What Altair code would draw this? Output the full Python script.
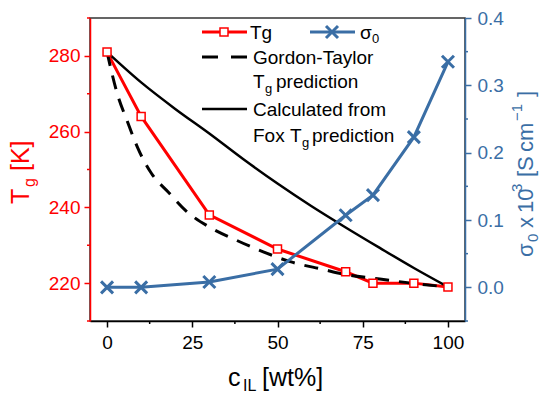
import altair as alt
import pandas as pd

# ---------------- data ----------------
c_exp = [0, 10, 30, 50, 70, 78, 90, 100]
tg_exp = [281, 264, 238, 229, 223, 220, 220, 219]
sigma = [0.0, 0.0, 0.008, 0.027, 0.107, 0.137, 0.223, 0.335]

c_gt = [0, 3, 6, 9, 13, 18, 23, 30, 38, 46, 54, 63, 71, 80, 89, 100]
tg_gt = [281, 270, 262.6, 255.7, 249, 244, 239.2, 234.8, 231.3, 228.2, 225.6, 223.7, 222.1, 221.1, 220.0, 219]

c_fox = [0, 10, 20, 30, 40, 50, 60, 70, 80, 90, 100]
tg_fox = [281, 273, 266, 259.5, 252.7, 246.3, 240.3, 234.7, 229.3, 224, 219]

x_ticks = [0, 25, 50, 75, 100]
x_minor = [12.5, 37.5, 62.5, 87.5]
tg_ticks = [220, 240, 260, 280]
tg_minor = [210, 230, 250, 270, 290]
s_ticks = [0.0, 0.1, 0.2, 0.3, 0.4]
s_minor = [-0.05, 0.05, 0.15, 0.25, 0.35]

# ---------------- style ----------------
FONT = "Liberation Sans"
RED = "#ff0000"
BLUE = "#3a6ea5"
W, H = 375, 303

df_exp = pd.DataFrame({"c": c_exp, "T": tg_exp, "s": sigma})
df_gt = pd.DataFrame({"c": c_gt, "T": tg_gt})
df_fox = pd.DataFrame({"c": c_fox, "T": tg_fox})
df_tmin = pd.DataFrame({"T": tg_minor})
df_smin = pd.DataFrame({"s": s_minor})
df_xmin = pd.DataFrame({"c": x_minor})
one = alt.Data(values=[{}])

xs = alt.Scale(domain=[-5, 105], nice=False, zero=False)
ys = alt.Scale(domain=[210, 290], nice=False, zero=False)
ss = alt.Scale(domain=[-0.05, 0.4], nice=False, zero=False)

xaxis = alt.Axis(values=x_ticks, title="", grid=False, domainColor="black", domainWidth=1.5,
                 tickColor="black", tickWidth=1.5, tickSize=6, labelFont=FONT, labelFontSize=19,
                 labelColor="black", labelPadding=6)
yaxis = alt.Axis(values=tg_ticks, title="", grid=False, orient="left", domainColor=RED, domainWidth=1.5,
                 tickColor=RED, tickWidth=1.5, tickSize=6, labelFont=FONT, labelFontSize=19,
                 labelColor=RED, labelPadding=4)
saxis = alt.Axis(values=s_ticks, title="", grid=False, orient="right", format=".1f", domainColor=BLUE,
                 domainWidth=1.5, tickColor=BLUE, tickWidth=1.5, tickSize=6, labelFont=FONT,
                 labelFontSize=19, labelColor=BLUE, labelPadding=6)

X = alt.X("c:Q", scale=xs, axis=xaxis)
Yn = alt.Y("T:Q", scale=ys, axis=None)
Sn = alt.Y("s:Q", scale=ss, axis=None)

tg_line = alt.Chart(df_exp).mark_line(color=RED, strokeWidth=3).encode(
    x=X, y=alt.Y("T:Q", scale=ys, axis=yaxis))
gt_line = alt.Chart(df_gt).mark_line(color="black", strokeWidth=3, strokeDash=[14, 10],
                                      interpolate="monotone").encode(x=X, y=Yn)
fox_line = alt.Chart(df_fox).mark_line(color="black", strokeWidth=2.5,
                                       interpolate="monotone").encode(x=X, y=Yn)
tg_pts = alt.Chart(df_exp).mark_point(shape="square", size=64, filled=True, fill="white",
                                       stroke=RED, strokeWidth=1.5, opacity=1).encode(x=X, y=Yn)
t_minor = alt.Chart(df_tmin).mark_rule(color=RED, strokeWidth=1.5).encode(
    y=Yn, x=alt.value(-3), x2=alt.value(0))
x_minor_r = alt.Chart(df_xmin).mark_rule(color="black", strokeWidth=1.5).encode(
    x=X, y=alt.value(H), y2=alt.value(H + 3))

XPATH = "M-1,-1L1,1M1,-1L-1,1"
s_line = alt.Chart(df_exp).mark_line(color=BLUE, strokeWidth=3).encode(
    x=X, y=alt.Y("s:Q", scale=ss, axis=saxis))
s_pts = alt.Chart(df_exp).mark_point(shape=XPATH, size=144, filled=False, stroke=BLUE,
                                      strokeWidth=3, opacity=1).encode(x=X, y=Sn)
s_minor_r = alt.Chart(df_smin).mark_rule(color=BLUE, strokeWidth=1.5).encode(
    y=Sn, x=alt.value(W), x2=alt.value(W + 3))


def txt(s, x, y, size, color="black", angle=0):
    return alt.Chart(one).mark_text(text=s, font=FONT, fontSize=size, color=color, align="left",
                                    baseline="alphabetic", angle=angle).encode(
        x=alt.value(x), y=alt.value(y))


def seg(x1, x2, y, color, width, dash=None):
    kw = dict(color=color, strokeWidth=width)
    if dash:
        kw["strokeDash"] = dash
    return alt.Chart(one).mark_rule(**kw).encode(x=alt.value(x1), x2=alt.value(x2), y=alt.value(y))


ann = [
    # legend
    seg(112, 157, 14, RED, 3),
    alt.Chart(one).mark_point(shape="square", size=64, filled=True, fill="white", stroke=RED,
                              strokeWidth=1.5, opacity=1).encode(x=alt.value(134), y=alt.value(14)),
    txt("Tg", 160, 21, 19),
    seg(220, 265, 14, BLUE, 3),
    alt.Chart(one).mark_point(shape=XPATH, size=144, filled=False, stroke=BLUE, strokeWidth=3,
                              opacity=1).encode(x=alt.value(242), y=alt.value(14)),
    txt("σ", 270, 21, 19),
    txt("0", 282, 25, 13),
    seg(112, 157, 39, "black", 3, [16, 13]),
    txt("Gordon-Taylor", 163, 46, 19),
    txt("T", 163, 70, 19),
    txt("g", 175, 75, 13),
    txt("prediction", 186, 70, 19),
    seg(112, 157, 91, "black", 2.5),
    txt("Calculated from", 163, 98, 19),
    txt("Fox", 163, 124, 19),
    txt("T", 200, 124, 19),
    txt("g", 212, 129, 13),
    txt("prediction", 222, 124, 19),
    # left title
    txt("T", -61, 186, 25, RED, 270),
    txt("g", -55, 169, 16, RED, 270),
    txt("[K]", -61, 153, 25, RED, 270),
    # right title
    txt("σ", 443, 239, 22, BLUE, 270),
    txt("0", 448, 224, 15, BLUE, 270),
    txt("x", 443, 210, 22, BLUE, 270),
    txt("10", 443, 195, 22, BLUE, 270),
    txt("3", 432, 174, 15, BLUE, 270),
    txt("[S", 443, 159, 22, BLUE, 270),
    txt("cm", 443, 134, 22, BLUE, 270),
    txt("−1", 432, 103, 15, BLUE, 270),
    txt("]", 443, 79, 22, BLUE, 270),
    # bottom title
    txt("c", 138, 367.5, 25),
    txt("IL", 153, 373, 16),
    txt("[wt%]", 172, 367.5, 25),
]

chart = alt.layer(tg_line, gt_line, fox_line, tg_pts, t_minor, x_minor_r,
                  s_line, s_pts, s_minor_r, *ann).resolve_scale(y="independent").properties(
    width=W, height=H,
    autosize=alt.AutoSizeParams(type="none"),
    padding={"left": 82, "top": 10, "right": 77, "bottom": 75},
).configure_view(stroke="#333333", strokeWidth=1.5)

chart.save("out.html", embed_options={"renderer": "svg", "actions": False})
